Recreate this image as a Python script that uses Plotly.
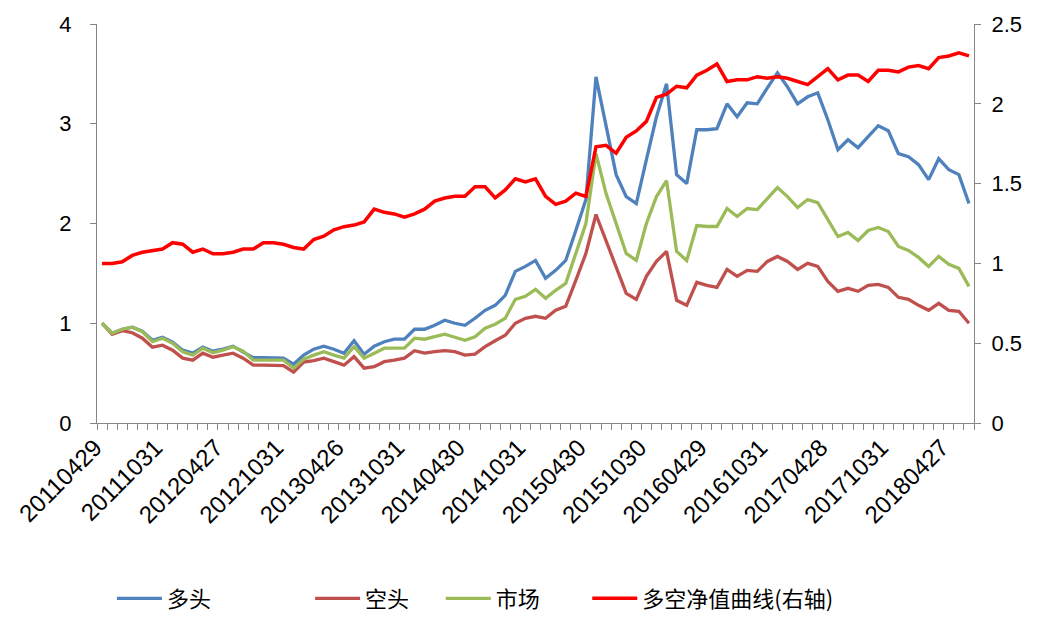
import plotly.graph_objects as go

tick_labels = ["20110429", "20111031", "20120427", "20121031", "20130426",
               "20131031", "20140430", "20141031", "20150430", "20151030",
               "20160429", "20161031", "20170428", "20171031", "20180427"]
label_step = 6  # months between labelled dates

long_vals = [1.00, 0.90, 0.94, 0.96, 0.92, 0.83, 0.86, 0.81, 0.73, 0.70, 0.76, 0.72, 0.74, 0.77, 0.71,
             0.655, 0.655, 0.655, 0.65, 0.59, 0.68, 0.74, 0.77, 0.74, 0.70, 0.825, 0.69, 0.77, 0.815,
             0.84, 0.84, 0.94, 0.94, 0.98, 1.03, 1.00, 0.98, 1.05, 1.13, 1.18, 1.28, 1.52, 1.57,
             1.63, 1.45, 1.53, 1.63, 1.93, 2.24, 3.47, 2.97, 2.49, 2.27, 2.20, 2.64, 3.07, 3.40,
             2.49, 2.40, 2.94, 2.94, 2.95, 3.20, 3.07, 3.21, 3.20, 3.36, 3.51, 3.37, 3.20, 3.27, 3.31,
             3.04, 2.74, 2.84, 2.76, 2.87, 2.98, 2.93, 2.70, 2.67, 2.59, 2.44, 2.65, 2.54, 2.49, 2.20]

short_vals = [1.00, 0.89, 0.925, 0.905, 0.85, 0.76, 0.78, 0.73, 0.65, 0.63, 0.70, 0.66, 0.68, 0.70, 0.65,
              0.58, 0.58, 0.58, 0.575, 0.51, 0.61, 0.625, 0.65, 0.615, 0.58, 0.665, 0.55, 0.565, 0.615,
              0.63, 0.65, 0.725, 0.70, 0.715, 0.725, 0.715, 0.68, 0.69, 0.765, 0.825, 0.88, 1.00, 1.05,
              1.07, 1.05, 1.13, 1.17, 1.43, 1.70, 2.09, 1.83, 1.57, 1.30, 1.24, 1.47, 1.62, 1.72,
              1.23, 1.18, 1.41, 1.38, 1.36, 1.54, 1.47, 1.53, 1.52, 1.62, 1.67, 1.62, 1.54, 1.60, 1.57,
              1.42, 1.32, 1.35, 1.32, 1.38, 1.39, 1.36, 1.26, 1.24, 1.18, 1.13, 1.20, 1.13, 1.12, 1.00]

market_vals = [1.00, 0.90, 0.94, 0.96, 0.915, 0.815, 0.85, 0.80, 0.715, 0.68, 0.75, 0.705, 0.73, 0.765, 0.72,
               0.63, 0.63, 0.63, 0.63, 0.55, 0.64, 0.68, 0.715, 0.68, 0.65, 0.765, 0.65, 0.70, 0.75,
               0.75, 0.75, 0.85, 0.84, 0.865, 0.89, 0.86, 0.83, 0.865, 0.95, 0.99, 1.05, 1.24, 1.27,
               1.34, 1.25, 1.33, 1.40, 1.70, 2.00, 2.70, 2.30, 2.00, 1.70, 1.63, 2.00, 2.27, 2.43,
               1.72, 1.63, 1.98, 1.97, 1.97, 2.15, 2.07, 2.15, 2.14, 2.25, 2.36, 2.27, 2.16, 2.24, 2.21,
               2.04, 1.87, 1.91, 1.83, 1.93, 1.96, 1.92, 1.77, 1.73, 1.66, 1.57, 1.67, 1.59, 1.55, 1.37]

ls_vals = [1.00, 1.00, 1.01, 1.05, 1.07, 1.08, 1.09, 1.13, 1.12, 1.07,
           1.09, 1.06, 1.06, 1.07, 1.09, 1.09, 1.13, 1.13, 1.12, 1.10,
           1.09, 1.15, 1.17, 1.21, 1.23, 1.24, 1.26, 1.34, 1.32, 1.31,
           1.29, 1.31, 1.34, 1.39, 1.41, 1.42, 1.42, 1.48, 1.48, 1.41,
           1.46, 1.53, 1.51, 1.53, 1.42, 1.37, 1.39, 1.44, 1.42, 1.73,
           1.74, 1.69, 1.79, 1.83, 1.89, 2.04, 2.06, 2.11, 2.10, 2.18,
           2.21, 2.25, 2.14, 2.15, 2.15, 2.17, 2.16, 2.17, 2.16, 2.14,
           2.12, 2.17, 2.22, 2.15, 2.18, 2.18, 2.14, 2.21, 2.21, 2.20,
           2.23, 2.24, 2.22, 2.29, 2.30, 2.32, 2.30]

names = ["多头", "空头", "市场", "多空净值曲线(右轴)"]
colors = ["#4F81BD", "#C0504D", "#9BBB59", "#FF0000"]
legend_ids = ["legend", "legend2", "legend3", "legend4"]
legend_x = [0.017, 0.243, 0.392, 0.559]

n = len(ls_vals)
x = list(range(n))
tickvals = [i * label_step for i in range(len(tick_labels))]

fig = go.Figure()
for vals, name, col, lg in zip([long_vals, short_vals, market_vals], names[:3], colors[:3], legend_ids[:3]):
    fig.add_trace(go.Scatter(x=x, y=vals, mode="lines", name=name, legend=lg,
                             line=dict(color=col, width=3.3)))
fig.add_trace(go.Scatter(x=x, y=ls_vals, mode="lines", name=names[3], yaxis="y2",
                         legend=legend_ids[3], line=dict(color=colors[3], width=3.5)))

axis_col = "#868686"
num_font = "Arial, Liberation Sans, sans-serif"
tick_font = dict(family=num_font, size=22, color="#000000")
leg_font = dict(family="Noto Sans CJK SC", size=22, color="#000000")

legends = {}
for lg, lx in zip(legend_ids, legend_x):
    legends[lg] = dict(orientation="h", x=lx, xanchor="left", y=-0.44, yanchor="middle",
                       font=leg_font, bgcolor="rgba(0,0,0,0)", itemwidth=45)

fig.update_layout(
    width=1048, height=613,
    paper_bgcolor="white", plot_bgcolor="white",
    margin=dict(l=89, r=82, t=16, b=198, autoexpand=False),
    showlegend=True,
    **legends,
    xaxis=dict(range=[-0.5, n - 0.5], showgrid=False, zeroline=False,
               showline=True, linecolor=axis_col, linewidth=1,
               tickmode="array", tickvals=tickvals, ticktext=tick_labels,
               tickangle=-45, ticks="", ticklen=0, ticklabelshift=-7,
               tickfont=dict(family=num_font, size=24, color="#000000"),
               minor=dict(tickmode="linear", tick0=-0.5, dtick=1, ticks="outside",
                          ticklen=6, tickcolor=axis_col, tickwidth=1, showgrid=False)),
    yaxis=dict(range=[0, 4], dtick=1, showgrid=False, zeroline=False,
               showline=True, linecolor=axis_col, linewidth=1,
               ticks="outside", ticklen=6, tickcolor=axis_col,
               tickfont=tick_font, ticklabelstandoff=14),
    yaxis2=dict(range=[0, 2.5], dtick=0.5, overlaying="y", side="right",
                showgrid=False, zeroline=False,
                showline=True, linecolor=axis_col, linewidth=1,
                ticks="outside", ticklen=6, tickcolor=axis_col,
                tickfont=tick_font, ticklabelstandoff=6),
)

fig.write_html("out.html")
